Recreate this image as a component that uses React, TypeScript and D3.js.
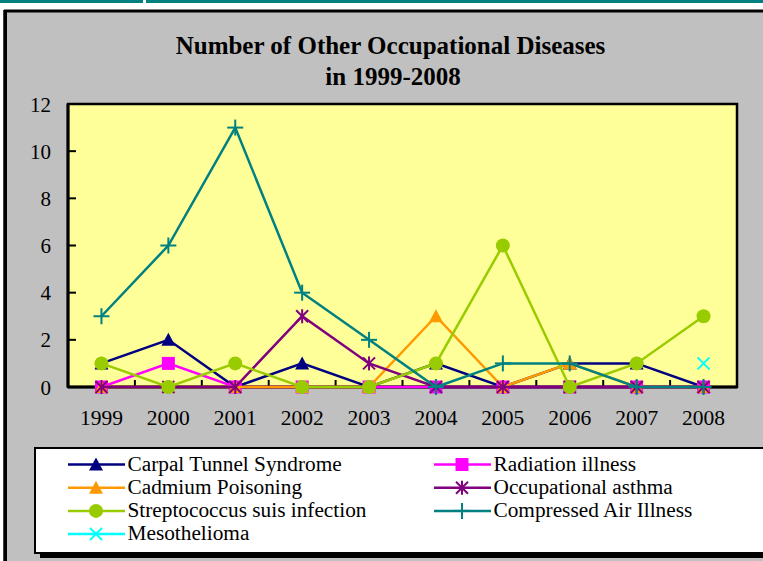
import React from 'react';
import * as d3 from 'd3';

const years = ['1999', '2000', '2001', '2002', '2003', '2004', '2005', '2006', '2007', '2008'];
const carpalTunnel = [1, 2, 0, 1, 0, 1, 0, 1, 1, 0];
const radiationIllness = [0, 1, 0, 0, 0, 0, 0, 0, 0, 0];
const cadmiumPoisoning = [0, 0, 0, 0, 0, 3, 0, 1, 0, 0];
const occupationalAsthma = [0, 0, 0, 3, 1, 0, 0, 0, 0, 0];
const streptococcus = [1, 0, 1, 0, 0, 1, 6, 0, 1, 3];
const compressedAir = [3, 6, 11, 4, 2, 0, 1, 1, 0, 0];
const mesothelioma: (number | null)[] = [null, null, null, null, null, null, null, null, null, 1];
const yTicks = [0, 2, 4, 6, 8, 10, 12];

type Shape = 'triangle' | 'square' | 'circle' | 'asterisk' | 'plus' | 'cross';
interface Series { name: string; values: (number | null)[]; color: string; shape: Shape; }

const series: Series[] = [
  { name: 'Carpal Tunnel Syndrome', values: carpalTunnel, color: '#000080', shape: 'triangle' },
  { name: 'Radiation illness', values: radiationIllness, color: '#FF00FF', shape: 'square' },
  { name: 'Cadmium Poisoning', values: cadmiumPoisoning, color: '#FF9900', shape: 'triangle' },
  { name: 'Occupational asthma', values: occupationalAsthma, color: '#800080', shape: 'asterisk' },
  { name: 'Streptococcus suis infection', values: streptococcus, color: '#99CC00', shape: 'circle' },
  { name: 'Compressed Air Illness', values: compressedAir, color: '#008080', shape: 'plus' },
  { name: 'Mesothelioma', values: mesothelioma, color: '#00FFFF', shape: 'cross' },
];

const FONT = '"Liberation Serif", "Times New Roman", serif';

function Marker({ shape, color, cx, cy }: { shape: Shape; color: string; cx: number; cy: number }) {
  switch (shape) {
    case 'triangle':
      return <path d={`M${cx},${cy - 7}L${cx + 7},${cy + 6}L${cx - 7},${cy + 6}Z`} fill={color} />;
    case 'square':
      return <rect x={cx - 6.5} y={cy - 6.5} width={13} height={13} fill={color} />;
    case 'circle':
      return <circle cx={cx} cy={cy} r={7} fill={color} />;
    case 'asterisk':
      return (
        <g stroke={color} strokeWidth={2}>
          <line x1={cx - 6} y1={cy - 6} x2={cx + 6} y2={cy + 6} />
          <line x1={cx - 6} y1={cy + 6} x2={cx + 6} y2={cy - 6} />
          <line x1={cx} y1={cy - 7} x2={cx} y2={cy + 7} />
        </g>
      );
    case 'plus':
      return (
        <g stroke={color} strokeWidth={2}>
          <line x1={cx - 8} y1={cy} x2={cx + 8} y2={cy} />
          <line x1={cx} y1={cy - 8} x2={cx} y2={cy + 8} />
        </g>
      );
    case 'cross':
      return (
        <g stroke={color} strokeWidth={2}>
          <line x1={cx - 6} y1={cy - 6} x2={cx + 6} y2={cy + 6} />
          <line x1={cx - 6} y1={cy + 6} x2={cx + 6} y2={cy - 6} />
        </g>
      );
  }
}

export default function App() {
  const W = 763, H = 561;
  const left = 68, right = 737, top = 104, bottom = 387;
  const x = d3.scaleBand<string>().domain(years).range([left, right]);
  const y = d3.scaleLinear().domain([0, 12]).range([bottom, top]);
  const cx = (yr: string) => (x(yr) as number) + x.bandwidth() / 2;
  const line = d3.line<[string, number | null]>()
    .defined(d => d[1] !== null)
    .x(d => cx(d[0]))
    .y(d => y(d[1] as number));

  const legendRows = [464.5, 487.7, 510.9, 534];
  const legendCols = [68, 434];

  return (
    <svg width={W} height={H} style={{ position: 'absolute', left: 0, top: 0 }} fontFamily={FONT}>
      <rect x={0} y={0} width={W} height={H} fill="#ffffff" />
      <rect x={0} y={0} width={143} height={3} fill="#008080" />
      <rect x={146} y={0} width={W - 146} height={3} fill="#008080" />
      {/* outer frame */}
      <rect x={5.5} y={11} width={W + 10} height={H + 10} fill="#C0C0C0" stroke="#000" strokeWidth={3} />
      <line x1={4} x2={4} y1={10} y2={H} stroke="#000" strokeWidth={1.5} />
      <text x={390.5} y={54} textAnchor="middle" fontSize={25} fontWeight="bold">Number of Other Occupational Diseases</text>
      <text x={393} y={85} textAnchor="middle" fontSize={25} fontWeight="bold">in 1999-2008</text>
      {/* plot area */}
      <rect x={left} y={top} width={right - left} height={bottom - top} fill="#FFFF99" stroke="#000" strokeWidth={2.5} />
      {/* y axis */}
      <line x1={left} y1={top} x2={left} y2={bottom} stroke="#000" strokeWidth={3} />
      {yTicks.map(t => (
        <g key={t}>
          <line x1={left} x2={left + 8} y1={y(t)} y2={y(t)} stroke="#000" strokeWidth={2} />
          <text x={51} y={y(t) + 7.5} textAnchor="end" fontSize={21}>{t}</text>
        </g>
      ))}
      {/* x axis */}
      <line x1={left} y1={bottom} x2={right} y2={bottom} stroke="#000" strokeWidth={3} />
      {years.map((yr, i) => (
        <g key={yr}>
          {i > 0 && <line x1={x(yr)} x2={x(yr)} y1={bottom} y2={bottom - 7} stroke="#000" strokeWidth={2} />}
          <text x={cx(yr)} y={425} textAnchor="middle" fontSize={21.5}>{yr}</text>
        </g>
      ))}
      {/* series */}
      {series.map(s => {
        const pts = years.map((yr, i) => [yr, s.values[i]] as [string, number | null]);
        return (
          <g key={s.name}>
            <path d={line(pts) || ''} fill="none" stroke={s.color} strokeWidth={2.5} />
            {pts.filter(p => p[1] !== null).map(p => (
              <Marker key={p[0]} shape={s.shape} color={s.color} cx={cx(p[0])} cy={y(p[1] as number)} />
            ))}
          </g>
        );
      })}
      {/* legend */}
      <rect x={40} y={452} width={W} height={106} fill="#000" />
      <rect x={35} y={448} width={W} height={105} fill="#fff" stroke="#000" strokeWidth={2} />
      {series.map((s, i) => {
        const col = i === 6 ? 0 : i % 2;
        const row = Math.floor(i / 2);
        const lx = legendCols[col];
        const ly = legendRows[row];
        return (
          <g key={s.name}>
            <line x1={lx} x2={lx + 57} y1={ly} y2={ly} stroke={s.color} strokeWidth={2.5} />
            <Marker shape={s.shape} color={s.color} cx={lx + 28} cy={ly} />
            <text x={lx + 59.5} y={ly + 6.2} fontSize={21.3}>{s.name}</text>
          </g>
        );
      })}
    </svg>
  );
}
